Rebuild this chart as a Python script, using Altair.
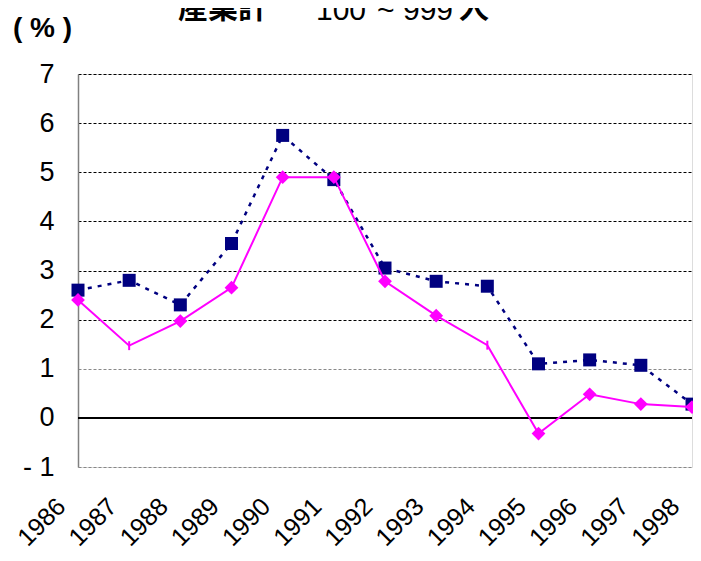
import altair as alt
import pandas as pd

years = ["1986", "1987", "1988", "1989", "1990", "1991", "1992",
         "1993", "1994", "1995", "1996", "1997", "1998"]
navy_vals = [2.6, 2.8, 2.3, 3.55, 5.75, 4.85, 3.05, 2.78, 2.68, 1.1, 1.18, 1.07, 0.28]
pink_vals = [2.4, 1.47, 1.97, 2.65, 4.9, 4.9, 2.78, 2.08, 1.48, -0.32, 0.48, 0.28, 0.22]
pink_tick_years = ["1987", "1994"]
y_ticks = [-1, 0, 1, 2, 3, 4, 5, 6, 7]

navy = pd.DataFrame({"year": years, "value": navy_vals})
pink = pd.DataFrame({"year": years, "value": pink_vals})
pink["tick"] = pink["year"].isin(pink_tick_years)

FONT = "Liberation Sans"
CJK = "Noto Sans CJK JP"

x_enc = alt.X("year:O", scale=alt.Scale(type="point", padding=0), title=None,
              axis=alt.Axis(labelAngle=-45, labelAlign="right", labelBaseline="middle",
                            labelFont=FONT, labelFontSize=25, labelColor="black",
                            labelPadding=35, labelOffset=-17, domain=False, ticks=False,
                            grid=False))
y_scale = alt.Scale(domain=[-1, 7], nice=False, zero=False)
y_enc = alt.Y("value:Q", scale=y_scale, title=None,
              axis=alt.Axis(values=y_ticks, labelFont=FONT, labelFontSize=27,
                            labelColor="black", labelPadding=24, ticks=False,
                            domainColor="#808080", domainWidth=1.5,
                            grid=True, gridDash=[3, 2], gridWidth=1,
                            gridColor={"condition": {"test": "datum.value == 1 || datum.value == -1",
                                                     "value": "#888888"},
                                       "value": "black"},
                            labelExpr="datum.value == -1 ? '- 1' : datum.label"))

zero = alt.Chart(pd.DataFrame({"z": [0]})).mark_rule(color="black", strokeWidth=2).encode(
    y=alt.Y("z:Q", scale=y_scale))

navy_line = alt.Chart(navy).mark_line(color="#000080", strokeWidth=2.5,
                                      strokeDash=[4, 6]).encode(x=x_enc, y=y_enc)
navy_pts = alt.Chart(navy).mark_point(shape="square", filled=True, size=169,
                                      color="#000080", opacity=1).encode(x=x_enc, y=y_enc)
pink_line = alt.Chart(pink).mark_line(color="#FF00FF", strokeWidth=2).encode(x=x_enc, y=y_enc)
pink_pts = alt.Chart(pink).transform_filter("!datum.tick").mark_point(
    shape="diamond", filled=True, size=190, color="#FF00FF", opacity=1).encode(x=x_enc, y=y_enc)
pink_ticks = alt.Chart(pink).transform_filter("datum.tick").mark_point(
    shape="M0,-1L0,1", filled=False, size=80, color="#FF00FF", strokeWidth=2,
    opacity=1).encode(x=x_enc, y=y_enc)


def label(txt, x, y, font, size, weight="normal"):
    return alt.Chart(pd.DataFrame({"t": [txt]})).mark_text(
        align="left", baseline="alphabetic", font=font, fontSize=size,
        fontWeight=weight, color="black").encode(
        text="t:N", x=alt.value(x), y=alt.value(y))


# plot area starts at page x=78, y=74
title_parts = [
    label("産業計", 100, -56, CJK, 30, "bold"),
    label("100", 238, -54, FONT, 30),
    label("~", 299, -54, FONT, 30),
    label("999", 325, -54, FONT, 30),
    label("人", 381, -56, CJK, 30, "bold"),
    label("(  %  )", -65, -37, FONT, 28, "bold"),
]

chart = alt.layer(zero, navy_line, navy_pts, pink_line, pink_pts, pink_ticks,
                  *title_parts).properties(
    width=614, height=393,
    autosize=alt.AutoSizeParams(type="none"),
    padding={"left": 70, "top": 66, "right": 1, "bottom": 85},
).configure_view(stroke=None, clip=False).configure(background="white")

chart.save("out.html", embed_options={"renderer": "svg", "actions": False})
